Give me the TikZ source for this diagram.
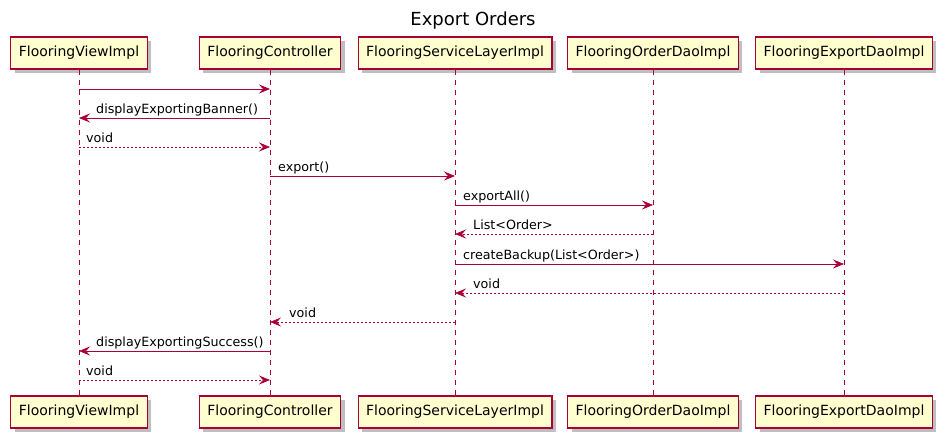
\documentclass[tikz,border=0pt]{standalone}
\usepackage{fontspec}
\setmainfont{DejaVu Sans}
\usetikzlibrary{arrows.meta,shadows}
\begin{document}
\begin{tikzpicture}[x=1pt,y=-1pt,
  part/.style={draw=plumred,fill=partbg,line width=1.2pt,minimum height=32pt,inner xsep=8pt,font=\fontsize{14}{16}\selectfont,drop shadow={shadow xshift=4pt,shadow yshift=-4pt,fill=black,opacity=0.25}},
  life/.style={draw=plumred,line width=0.8pt,dash pattern=on 5pt off 5pt},
  call/.style={draw=plumred,line width=0.8pt,-{Stealth[length=11pt,width=9pt,inset=4pt]}},
  reply/.style={call,dash pattern=on 2pt off 2pt},
  msg/.style={anchor=base west,inner sep=0pt,font=\fontsize{12.7}{15}\selectfont}]
\definecolor{plumred}{HTML}{A80036}
\definecolor{partbg}{HTML}{FEFECE}
\useasboundingbox (0,0) rectangle (951,445);
\node[font=\fontsize{18}{20}\selectfont] (title) at (473,21) {Export Orders};
\node[part] (viewT) at (79,53) {FlooringViewImpl};
\node[part] (ctrlT) at (270,53) {FlooringController};
\node[part] (servT) at (455,53) {FlooringServiceLayerImpl};
\node[part] (ordT) at (653,53) {FlooringOrderDaoImpl};
\node[part] (expT) at (844,53) {FlooringExportDaoImpl};
\node[part] (viewB) at (79,412) {FlooringViewImpl};
\node[part] (ctrlB) at (270,412) {FlooringController};
\node[part] (servB) at (455,412) {FlooringServiceLayerImpl};
\node[part] (ordB) at (653,412) {FlooringOrderDaoImpl};
\node[part] (expB) at (844,412) {FlooringExportDaoImpl};
\draw[life] (viewT) -- (viewB);
\draw[life] (ctrlT) -- (ctrlB);
\draw[life] (servT) -- (servB);
\draw[life] (ordT) -- (ordB);
\draw[life] (expT) -- (expB);
\draw[call] (viewT |- 0,89) -- (ctrlT |- 0,89);
\draw[call] (ctrlT |- 0,118) -- (viewT |- 0,118);
\node[msg] (m2) at (96,113) {displayExportingBanner()};
\draw[reply] (viewT |- 0,147) -- (ctrlT |- 0,147);
\node[msg] (m3) at (86,142) {void};
\draw[call] (ctrlT |- 0,176) -- (servT |- 0,176);
\node[msg] (m4) at (278,171) {export()};
\draw[call] (servT |- 0,205) -- (ordT |- 0,205);
\node[msg] (m5) at (463,200) {exportAll()};
\draw[reply] (ordT |- 0,234) -- (servT |- 0,234);
\node[msg] (m6) at (473,229) {List<Order>};
\draw[call] (servT |- 0,264) -- (expT |- 0,264);
\node[msg] (m7) at (463,259) {createBackup(List<Order>)};
\draw[reply] (expT |- 0,293) -- (servT |- 0,293);
\node[msg] (m8) at (473,288) {void};
\draw[reply] (servT |- 0,322) -- (ctrlT |- 0,322);
\node[msg] (m9) at (289,317) {void};
\draw[call] (ctrlT |- 0,351) -- (viewT |- 0,351);
\node[msg] (m10) at (96,346) {displayExportingSuccess()};
\draw[reply] (viewT |- 0,380) -- (ctrlT |- 0,380);
\node[msg] (m11) at (86,375) {void};
\end{tikzpicture}
\end{document}
